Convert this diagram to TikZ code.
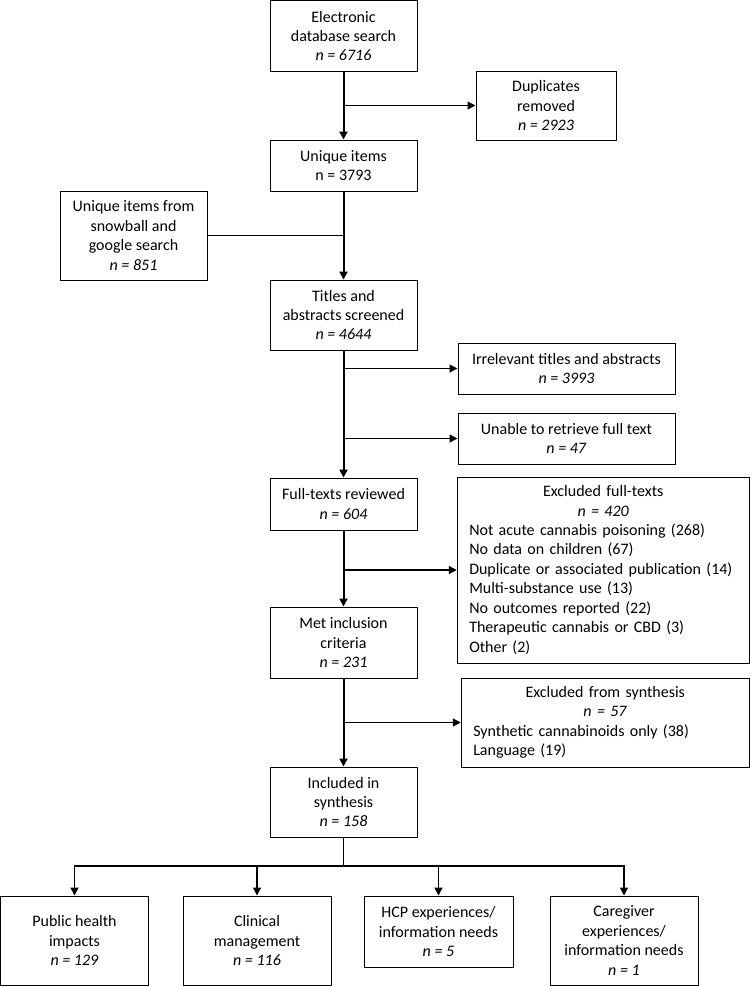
\documentclass[tikz,border=0pt]{standalone}
\usepackage{fontspec}
\setmainfont{Carlito}
\usetikzlibrary{arrows.meta, positioning}
\newcommand{\midline}[1]{\makebox[\hsize][c]{#1}}
\tikzstyle{stage} = [rectangle, draw, line width=0.75pt, align=center, inner sep=2pt, font=\fontsize{12}{14.6}\selectfont]
\tikzstyle{listbox} = [stage, align=left, inner xsep=9pt]
\tikzstyle{trunk} = [line width=1.5pt, -{Triangle[length=6pt, width=6pt]}]
\tikzstyle{side} = [line width=1pt, -{Triangle[length=6pt, width=6pt]}]
\tikzstyle{feed} = [line width=1pt]
\begin{document}
\begin{tikzpicture}[x=0.75pt, y=-0.75pt]
  \useasboundingbox (0,0) rectangle (751,986);
  % main column
  \node (search) [stage, minimum width=110.25pt, minimum height=53.25pt] at (343.5,36) {Electronic\\database search\\\textit{n = 6716}};
  \node (unique) [stage, minimum width=110.25pt, minimum height=38.25pt] at (343.5,165.5) {Unique items\\n = 3793};
  \node (titles) [stage, minimum width=110.25pt, minimum height=52.5pt] at (343.5,315) {Titles and\\abstracts screened\\\textit{n = 4644}};
  \node (full) [stage, minimum width=110.25pt, minimum height=39pt] at (343.5,504) {Full-texts reviewed\\\textit{n = 604}};
  \node (met) [stage, minimum width=110.25pt, minimum height=53.25pt] at (343.5,642.5) {Met inclusion\\criteria\\\textit{n = 231}};
  \node (incl) [stage, minimum width=110.25pt, minimum height=52.5pt] at (343.5,802) {Included in\\synthesis\\\textit{n = 158}};
  % side boxes
  \node (dup) [stage, minimum width=105pt, minimum height=51.75pt] at (546,105.5) {Duplicates\\removed\\\textit{n = 2923}};
  \node (snow) [stage, minimum width=110.25pt, minimum height=66.75pt] at (133.5,235.5) {Unique items from\\snowball and\\google search\\\textit{n = 851}};
  \node (irr) [stage, minimum width=162.75pt, minimum height=38.25pt] at (566.5,368.5) {Irrelevant titles and abstracts\\\textit{n = 3993}};
  \node (unable) [stage, minimum width=162.75pt, minimum height=38.25pt] at (566.5,438.5) {Unable to retrieve full text\\\textit{n = 47}};
  \node (exfull) [listbox, text width=201pt, minimum height=139.5pt] at (603.25,570) {\midline{Excluded full-texts}\\\midline{\textit{n = 420}}\\Not acute cannabis poisoning (268)\\No data on children (67)\\Duplicate or associated publication (14)\\Multi-substance use (13)\\No outcomes reported (22)\\Therapeutic cannabis or CBD (3)\\Other (2)};
  \node (exsyn) [listbox, text width=198pt, minimum height=66.75pt] at (605.25,722.5) {\midline{Excluded from synthesis}\\\midline{\textit{n = 57}}\\Synthetic cannabinoids only (38)\\Language (19)};
  % outcome boxes
  \node (pub) [stage, minimum width=111pt, minimum height=66.75pt] at (74.5,940.5) {Public health\\impacts\\\textit{n = 129}};
  \node (clin) [stage, minimum width=111pt, minimum height=66.75pt] at (257,940.5) {Clinical\\management\\\textit{n = 116}};
  \node (hcp) [stage, minimum width=111.75pt, minimum height=53.25pt] at (438.5,931.5) {HCP experiences/\\information needs\\\textit{n = 5}};
  \node (care) [stage, minimum width=111pt, minimum height=66.75pt] at (624,940.5) {Caregiver\\experiences/\\information needs\\\textit{n = 1}};
  % connectors
  \draw [trunk] (search) -- (unique);
  \draw [side] (search.south |- dup.west) -- (dup.west);
  \draw [trunk] (unique) -- (titles);
  \draw [feed] (snow.east) -- (snow.east -| unique.south);
  \draw [trunk] (titles) -- (full);
  \draw [side] (titles.south |- irr.west) -- (irr.west);
  \draw [side] (titles.south |- unable.west) -- (unable.west);
  \draw [trunk] (full) -- (met);
  \draw [side] (full.south |- exfull.west) -- (exfull.west);
  \draw [trunk] (met) -- (incl);
  \draw [side] (met.south |- exsyn.west) -- (exsyn.west);
  \coordinate (split) at (343.5,866);
  \draw [feed] (incl) -- (split);
  \foreach \leaf in {pub, clin, hcp, care}
    \draw [side] (split) -| (\leaf.north);
\end{tikzpicture}
\end{document}
